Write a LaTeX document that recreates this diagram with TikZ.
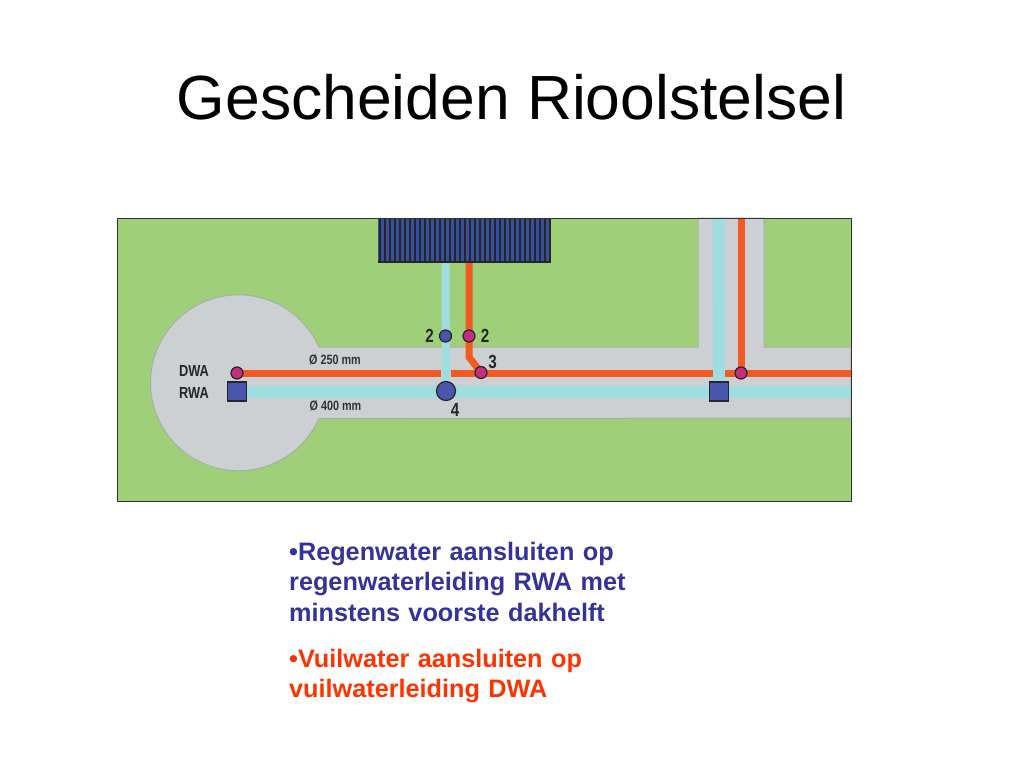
\documentclass[tikz,border=0pt]{standalone}
\usepackage{fontspec}
\setmainfont{Liberation Sans}
\newfontfamily\narrowfont[FakeStretch=0.8]{Liberation Sans}
\usetikzlibrary{backgrounds}
\definecolor{lawn}{HTML}{A0CF7A}
\definecolor{road}{HTML}{CDD0D2}
\definecolor{roadedge}{HTML}{A3B0A3}
\definecolor{rwapipe}{HTML}{A0DDE0}
\definecolor{dwapipe}{HTML}{F25A22}
\definecolor{rwablue}{HTML}{4A55AE}
\definecolor{dwapink}{HTML}{C42E80}
\definecolor{roofblue}{HTML}{34509F}
\definecolor{rwatext}{HTML}{333399}
\definecolor{dwatext}{HTML}{FF3300}
\tikzset{
	dwaline/.style={draw=dwapipe, line width=7pt},
	rwaline/.style={draw=rwapipe, line width=8pt},
	rwamain/.style={draw=rwapipe, line width=12pt},
	dwapit/.style={circle, draw=black!85, fill=dwapink, line width=1.2pt, minimum size=12pt, inner sep=0pt},
	rwapit/.style={circle, draw=black!85, fill=rwablue, line width=1.2pt, minimum size=12pt, inner sep=0pt},
	rwabox/.style={rectangle, draw=black!85, fill=rwablue, line width=1.2pt, minimum size=19pt, inner sep=0pt},
	tag/.style={inner sep=0pt, text=black!85, font=\fontsize{19}{19}\narrowfont\bfseries},
	small/.style={inner sep=0pt, text=black!80, font=\fontsize{13.5}{13.5}\narrowfont\bfseries},
	legend/.style={inner sep=0pt, text=black!85, font=\fontsize{16}{16}\narrowfont\bfseries},
	bullets/.style={inner sep=0pt, anchor=north west, align=left, text width=400pt, font=\fontsize{25.25}{30.5}\selectfont\bfseries}
}
\begin{document}
\begin{tikzpicture}[x=1pt, y=-1pt]
	\useasboundingbox (0, 0) rectangle (1024, 768);
	% Titel
	\node [inner sep=0pt, anchor=base, font=\fontsize{62.4}{64}\selectfont] (title) at (511.5, 119) {Gescheiden Rioolstelsel};
	% Dak
	\fill [roofblue] (378, 218) rectangle (551, 262);
	\foreach \x in {380, 385, ..., 550} {
		\draw [black!85, line width=1.6pt] (\x, 218) -- (\x, 262);
	}
	\draw [black!85, line width=1.5pt] (378, 262) -- (551, 262);
	% Coordinaten
	\coordinate (roofrwa) at (445.5, 262);
	\coordinate (roofdwa) at (469, 262);
	\coordinate (bendd) at (469, 357);
	\coordinate (endd) at (851, 373);
	\coordinate (endr) at (851, 391.5);
	\coordinate (toprwa) at (718.5, 218);
	\coordinate (topdwa) at (741, 218);
	\coordinate (gapa) at (441, 373);
	\coordinate (gapb) at (450.5, 373);
	\coordinate (gapc) at (713, 373);
	\coordinate (gapd) at (725, 373);
	% Putten
	\node [dwapit] (dwastart) at (237, 373) {};
	\node [rwabox] (rwastart) at (237, 391.5) {};
	\node [rwapit] (rwatwo) at (445.5, 336) {};
	\node [dwapit] (dwatwo) at (469, 336) {};
	\node [dwapit] (dwathree) at (481, 372.5) {};
	\node [rwapit, minimum size=19pt] (rwafour) at (446, 391) {};
	\node [rwabox] (rwaright) at (719, 391.5) {};
	\node [dwapit] (dwaright) at (741, 373) {};
	% Gazon, wegen en leidingen
	\begin{pgfonlayer}{background}
		\fill [lawn] (117, 218) rectangle (851, 501);
		\draw [fill=road, draw=roadedge, line width=1pt] (851, 347) -- (764, 347) -- (764, 218) -- (698, 218) -- (698, 347) -- (318.9, 347)
			arc [start angle=-24, end angle=-336, x radius=88, y radius=88] -- (851, 418) -- cycle;
		\draw [rwamain] (rwastart.center) -- (endr);
		\draw [rwaline] (roofrwa) -- (rwafour.center);
		\draw [rwamain] (toprwa) -- (rwaright.center);
		\draw [dwaline] (dwastart.center) -- (gapa);
		\draw [dwaline] (gapb) -- (gapc);
		\draw [dwaline] (gapd) -- (endd);
		\draw [dwaline] (roofdwa) -- (bendd) -- (dwathree.center);
		\draw [dwaline] (topdwa) -- (dwaright.center);
	\end{pgfonlayer}
	\draw [black!80, line width=1pt] (117, 218) rectangle (851, 501);
	% Labels
	\node [legend] (dwalabel) at (194, 371) {DWA};
	\node [legend] (rwalabel) at (194, 392.5) {RWA};
	\node [small] (dn250) at (335, 360) {Ø 250 mm};
	\node [small] (dn400) at (335.5, 406) {Ø 400 mm};
	\node [tag] (labela) at (429.5, 336) {2};
	\node [tag] (labelb) at (485, 336) {2};
	\node [tag] (labelc) at (492.5, 362) {3};
	\node [tag] (labeld) at (455, 410) {4};
	% Tekst
	\node [bullets, text=rwatext] (textrwa) at (289, 541.5) {•Regenwater aansluiten op\\regenwaterleiding RWA met\\minstens voorste dakhelft};
	\node [bullets, text=dwatext] (textdwa) at (289, 648.5) {•Vuilwater aansluiten op\\vuilwaterleiding DWA};
\end{tikzpicture}
\end{document}
